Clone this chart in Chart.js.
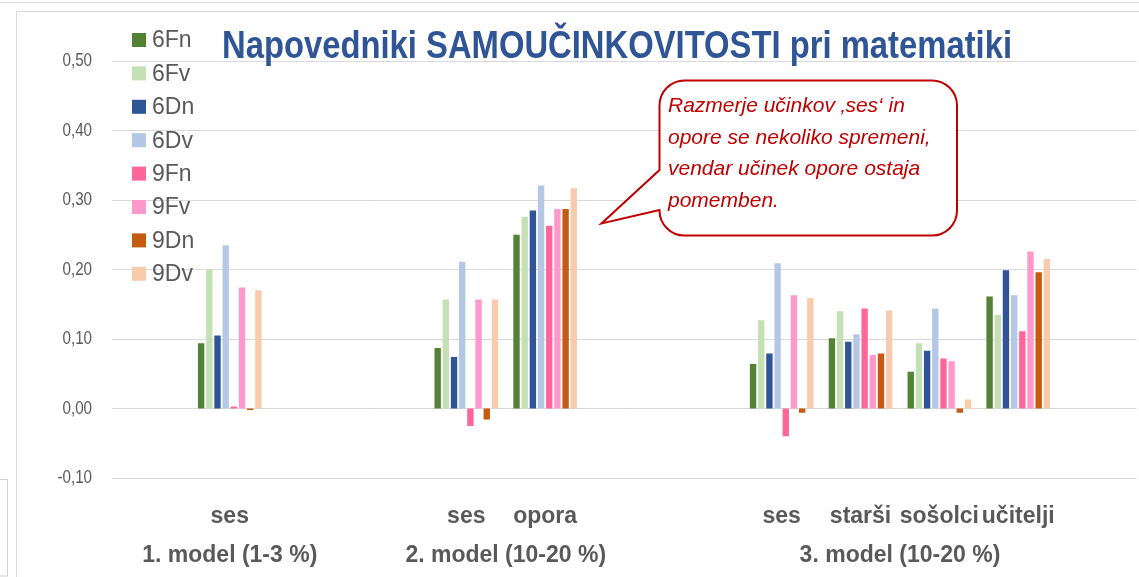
<!DOCTYPE html>
<html>
<head>
<meta charset="utf-8">
<script src="https://cdn.jsdelivr.net/npm/chart.js@4.4.1/dist/chart.umd.min.js"></script>
<style>
  html, body { margin: 0; padding: 0; background: #ffffff; }
  #wrap { position: relative; width: 1139px; height: 577px; }
  canvas { display: block; }
</style>
</head>
<body>
<div id="wrap"><canvas id="c" width="1139" height="577"></canvas></div>
<script>
// ---- data ----
const categories = ['', 'ses', '', '', 'ses', 'opora', '', '', 'ses', 'starši', 'sošolci', 'učitelji', ''];
const groupLabels = ['1. model (1-3 %)', '2. model (10-20 %)', '3. model (10-20 %)'];
const groupFirst = [1, 4, 8];
const groupLast  = [1, 5, 11];
const seriesNames = ['6Fn', '6Fv', '6Dn', '6Dv', '9Fn', '9Fv', '9Dn', '9Dv'];
const s6Fn = [null, 0.094, null, null, 0.087, 0.250, null, null, 0.064, 0.101, 0.053, 0.161, null];
const s6Fv = [null, 0.200, null, null, 0.157, 0.276, null, null, 0.127, 0.140, 0.094, 0.135, null];
const s6Dn = [null, 0.105, null, null, 0.074, 0.285, null, null, 0.079, 0.096, 0.083, 0.199, null];
const s6Dv = [null, 0.235, null, null, 0.211, 0.321, null, null, 0.209, 0.107, 0.144, 0.163, null];
const s9Fn = [null, 0.003, null, null, -0.025, 0.263, null, null, -0.040, 0.144, 0.072, 0.111, null];
const s9Fv = [null, 0.174, null, null, 0.157, 0.287, null, null, 0.163, 0.077, 0.068, 0.226, null];
const s9Dn = [null, -0.002, null, null, -0.016, 0.287, null, null, -0.006, 0.079, -0.006, 0.196, null];
const s9Dv = [null, 0.170, null, null, 0.157, 0.317, null, null, 0.159, 0.141, 0.013, 0.215, null];
const yTickLabels = ['-0,10', '0,00', '0,10', '0,20', '0,30', '0,40', '0,50'];
const titleText = 'Napovedniki SAMOUČINKOVITOSTI pri matematiki';
const calloutLines = ['Razmerje učinkov ‚ses‘ in', 'opore se nekoliko spremeni,', 'vendar učinek opore ostaja', 'pomemben.'];

// ---- styles ----
const colors = ['#548235', '#C5E0B4', '#2F5597', '#B4C7E7', '#FF6699', '#FF99CC', '#C55A11', '#F8CBAD'];
const seriesData = [s6Fn, s6Fv, s6Dn, s6Dv, s9Fn, s9Fv, s9Dn, s9Dv];
const GRAY = '#595959';
const SANS = "'Liberation Sans', Arial, sans-serif";

const decorPlugin = {
  id: 'decor',
  beforeDraw(chart) {
    const ctx = chart.ctx;
    ctx.save();
    ctx.strokeStyle = '#D9D9D9';
    ctx.lineWidth = 1;
    ctx.beginPath();
    ctx.moveTo(0, 2.5); ctx.lineTo(1139, 2.5);
    ctx.moveTo(16.5, 11.5); ctx.lineTo(1139, 11.5);
    ctx.moveTo(16.5, 11.5); ctx.lineTo(16.5, 577);
    ctx.stroke();
    ctx.strokeStyle = '#D0D0D0';
    ctx.strokeRect(-1, 479.5, 8.5, 96.5);
    ctx.restore();
  },
  afterDraw(chart) {
    const ctx = chart.ctx;
    const x = chart.scales.x;
    const y = chart.scales.y;
    ctx.save();
    // y tick labels (condensed look)
    ctx.fillStyle = GRAY;
    ctx.font = '18.5px ' + SANS;
    ctx.textAlign = 'right';
    ctx.textBaseline = 'middle';
    y.ticks.forEach((t) => {
      const lbl = yTickLabels[Math.round((t.value + 0.1) * 10)];
      const py = y.getPixelForValue(t.value);
      ctx.save();
      ctx.translate(92, py);
      ctx.scale(0.82, 1);
      ctx.fillText(lbl, 0, 0);
      ctx.restore();
    });
    // group labels
    ctx.font = 'bold 23px ' + SANS;
    ctx.textAlign = 'center';
    ctx.textBaseline = 'alphabetic';
    for (let g = 0; g < groupLabels.length; g++) {
      const cx = (x.getPixelForValue(groupFirst[g]) + x.getPixelForValue(groupLast[g])) / 2;
      ctx.fillText(groupLabels[g], cx, 562);
    }
    // legend
    ctx.textAlign = 'left';
    ctx.textBaseline = 'middle';
    ctx.font = '23px ' + SANS;
    chart.data.datasets.forEach((ds, i) => {
      const cy = 40 + i * 33.4;
      ctx.fillStyle = ds.backgroundColor;
      ctx.fillRect(132, cy - 7, 14, 14);
      ctx.fillStyle = GRAY;
      ctx.fillText(ds.label, 152, cy + 1);
    });
    // title
    ctx.fillStyle = '#2F5597';
    ctx.font = 'bold 39px ' + SANS;
    const w = ctx.measureText(titleText).width;
    const sx = 790 / w;
    ctx.save();
    ctx.translate(617, 58);
    ctx.scale(sx, 1);
    ctx.textAlign = 'center';
    ctx.textBaseline = 'alphabetic';
    ctx.fillText(titleText, 0, 0);
    ctx.restore();
    // callout
    const L = 659.5, T = 80.5, R = 957, B = 235.5, r = 25;
    ctx.beginPath();
    ctx.moveTo(L + r, T);
    ctx.lineTo(R - r, T);
    ctx.arcTo(R, T, R, T + r, r);
    ctx.lineTo(R, B - r);
    ctx.arcTo(R, B, R - r, B, r);
    ctx.lineTo(L + r, B);
    ctx.arcTo(L, B, L, B - r, r);
    ctx.lineTo(L, 210);
    ctx.lineTo(601.5, 223.5);
    ctx.lineTo(L, 170);
    ctx.lineTo(L, T + r);
    ctx.arcTo(L, T, L + r, T, r);
    ctx.closePath();
    ctx.fillStyle = '#ffffff';
    ctx.fill();
    ctx.strokeStyle = '#C00000';
    ctx.lineWidth = 2;
    ctx.stroke();
    ctx.fillStyle = '#C00000';
    ctx.font = 'italic 21px ' + SANS;
    ctx.textAlign = 'left';
    ctx.textBaseline = 'alphabetic';
    calloutLines.forEach((ln, i) => ctx.fillText(ln, 668, 112 + i * 31.5));
    ctx.restore();
  }
};

new Chart(document.getElementById('c'), {
  type: 'bar',
  data: {
    labels: categories,
    datasets: seriesNames.map((n, i) => ({
      label: n,
      data: seriesData[i],
      backgroundColor: colors[i],
      borderWidth: 0,
      categoryPercentage: 0.83,
      barPercentage: 0.78
    }))
  },
  options: {
    responsive: false,
    animation: false,
    layout: { padding: { top: 61, right: 2.5, left: 0, bottom: 0 } },
    plugins: { legend: { display: false }, tooltip: { enabled: false }, title: { display: false } },
    scales: {
      x: {
        grid: { display: false, drawTicks: false },
        border: { display: false },
        ticks: {
          autoSkip: false, maxRotation: 0, padding: 25,
          color: GRAY, font: { family: SANS, size: 23, weight: 'bold' }
        },
        afterFit(s) { s.height = 99; }
      },
      y: {
        min: -0.1, max: 0.5,
        grid: { color: '#D9D9D9', lineWidth: 1, drawTicks: false },
        border: { display: false },
        ticks: {
          stepSize: 0.1, padding: 19.5, color: 'rgba(0,0,0,0)',
          font: { family: SANS, size: 16 },
          callback: (v) => yTickLabels[Math.round((v + 0.1) * 10)]
        },
        afterFit(s) { s.width = 111.5; }
      }
    }
  },
  plugins: [decorPlugin]
});
</script>
</body>
</html>
